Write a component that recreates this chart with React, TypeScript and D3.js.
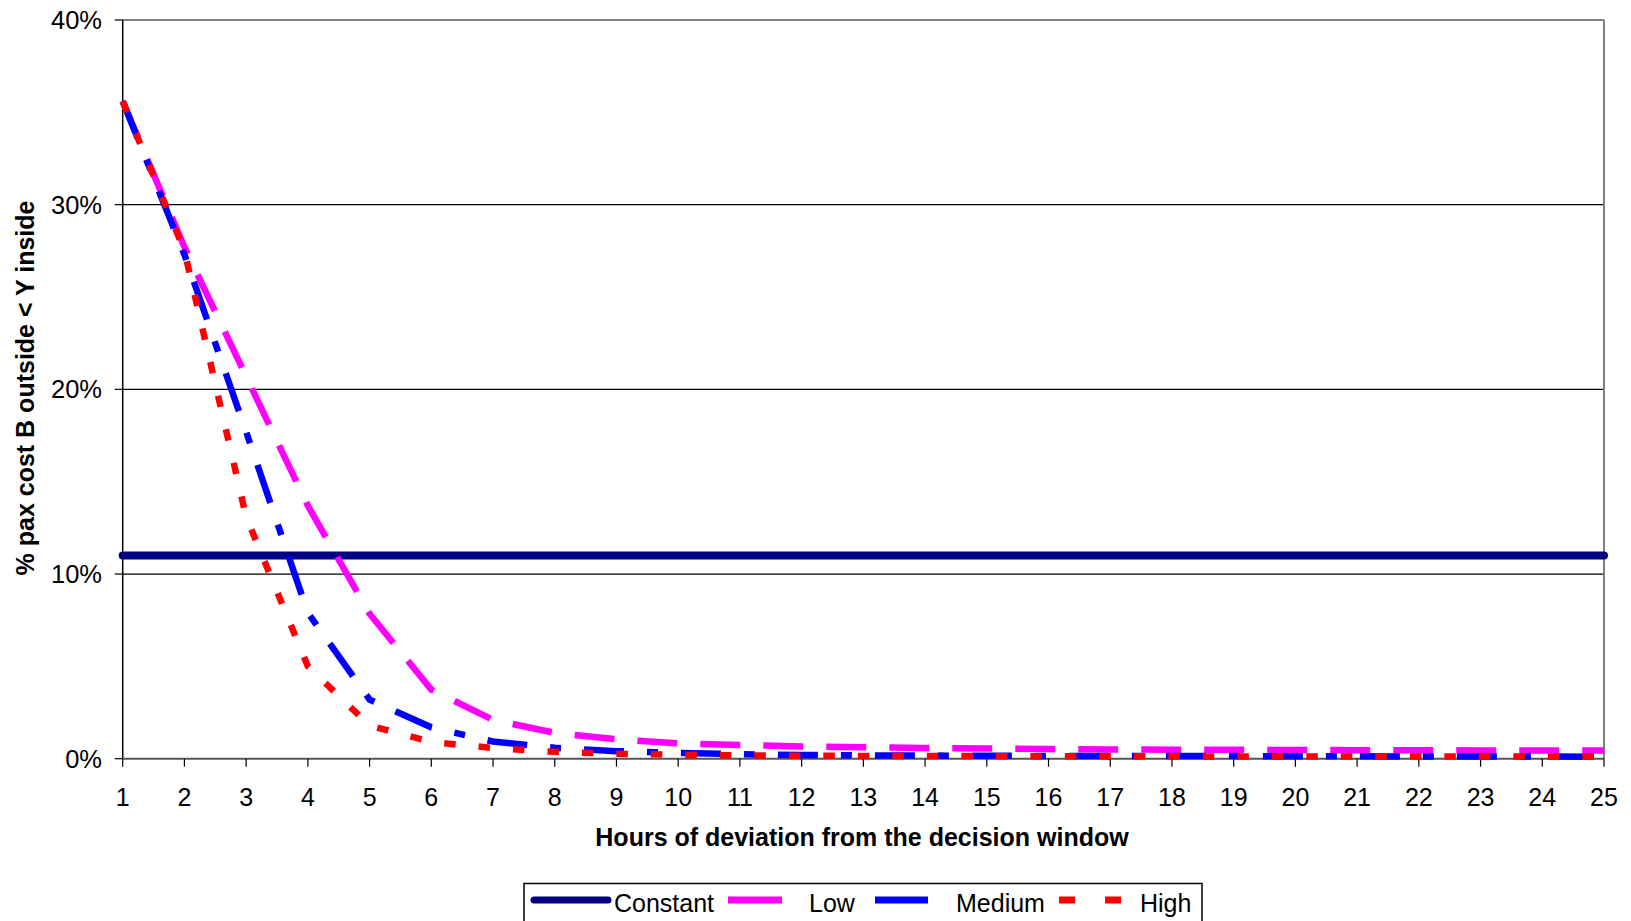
import React from "react";
import * as d3 from "d3";

const hours = [1, 2, 3, 4, 5, 6, 7, 8, 9, 10, 11, 12, 13, 14, 15, 16, 17, 18, 19, 20, 21, 22, 23, 24, 25];
const constantVals = [11, 11, 11, 11, 11, 11, 11, 11, 11, 11, 11, 11, 11, 11, 11, 11, 11, 11, 11, 11, 11, 11, 11, 11, 11];
const lowVals = [35.6, 27.7, 20.7, 13.7, 7.85, 3.74, 2.1, 1.4, 1.05, 0.83, 0.74, 0.66, 0.62, 0.58, 0.55, 0.52, 0.5, 0.49, 0.48, 0.47, 0.46, 0.46, 0.45, 0.45, 0.45];
const mediumVals = [35.6, 27.3, 17.7, 7.9, 3.2, 1.7, 0.93, 0.59, 0.41, 0.31, 0.24, 0.2, 0.18, 0.17, 0.16, 0.15, 0.15, 0.14, 0.14, 0.13, 0.13, 0.12, 0.12, 0.12, 0.11];
const highVals = [35.6, 27.5, 13.1, 5.0, 1.8, 0.9, 0.58, 0.37, 0.27, 0.21, 0.18, 0.16, 0.15, 0.14, 0.14, 0.13, 0.13, 0.13, 0.12, 0.12, 0.12, 0.12, 0.12, 0.11, 0.11];
const yTicks = [0, 10, 20, 30, 40];
const xTitle = "Hours of deviation from the decision window";
const yTitle = "% pax cost B outside < Y inside";
const seriesNames = ["Constant", "Low", "Medium", "High"];

const W = 1631;
const H = 921;
const L = 122.7;
const R = 1604;
const T = 20;
const B = 758.7;

export default function App() {
  const x = d3.scaleLinear().domain([1, 25]).range([L, R]);
  const y = d3.scaleLinear().domain([0, 40]).range([B, T]);
  const line = (vals: number[]) =>
    d3
      .line<number>()
      .x((_, i) => x(hours[i]))
      .y((v) => y(v))(vals) as string;

  const font = "'Liberation Sans', Arial, sans-serif";

  const series = [
    { name: seriesNames[0], vals: constantVals, color: "#000080", width: 8, dash: "", cap: "round" },
    { name: seriesNames[1], vals: lowVals, color: "#FF00FF", width: 6.5, dash: "40 23", cap: "butt" },
    { name: seriesNames[2], vals: mediumVals, color: "#0000FF", width: 6.5, dash: "40 23 11 23", cap: "butt" },
    { name: seriesNames[3], vals: highVals, color: "#FF0000", width: 6.5, dash: "11.5 23", cap: "butt" },
  ];

  return (
    <svg
      width={W}
      height={H}
      style={{ position: "absolute", left: 0, top: 0, background: "#fff" }}
      fontFamily={font}
    >
      <rect x={0} y={0} width={W} height={H} fill="#fff" />
      {yTicks.slice(1, 4).map((t) => (
        <line key={"g" + t} x1={L} x2={R} y1={y(t)} y2={y(t)} stroke="#000" strokeWidth={1.2} />
      ))}
      <line x1={L} x2={R} y1={T} y2={T} stroke="#808080" strokeWidth={2} />
      <line x1={R} x2={R} y1={T} y2={B} stroke="#808080" strokeWidth={2} />
      <line x1={L} x2={L} y1={T} y2={B} stroke="#000" strokeWidth={1.5} />
      {yTicks.map((t) => (
        <g key={"yt" + t}>
          <line x1={L - 8} x2={L} y1={y(t)} y2={y(t)} stroke="#000" strokeWidth={1.2} />
          <text x={102} y={y(t) + 9} fontSize={25.5} textAnchor="end" fill="#000">
            {t + "%"}
          </text>
        </g>
      ))}
      <line x1={L} x2={R} y1={B} y2={B} stroke="#555" strokeWidth={2} />
      {hours.map((h) => (
        <g key={"xt" + h}>
          <line x1={x(h)} x2={x(h)} y1={B} y2={B + 8} stroke="#000" strokeWidth={1.2} />
          <text x={x(h)} y={805.5} fontSize={25} textAnchor="middle" fill="#000">
            {h}
          </text>
        </g>
      ))}
      {series.map((s) => (
        <path
          key={s.name}
          d={line(s.vals)}
          fill="none"
          stroke={s.color}
          strokeWidth={s.width}
          strokeDasharray={s.dash || undefined}
          strokeLinecap={s.cap as any}
          strokeLinejoin="miter"
        />
      ))}
      <text x={862} y={846} fontSize={25} fontWeight="bold" textAnchor="middle" fill="#000">
        {xTitle}
      </text>
      <text
        transform={`translate(34,388) rotate(-90)`}
        fontSize={25}
        fontWeight="bold"
        textAnchor="middle"
        fill="#000"
      >
        {yTitle}
      </text>
      <rect x={524} y={883.5} width={678} height={60} fill="#fff" stroke="#000" strokeWidth={1.5} />
      <line x1={534} x2={608} y1={900} y2={900} stroke="#000080" strokeWidth={7} strokeLinecap="round" />
      <text x={614} y={911.5} fontSize={25} fill="#000">{seriesNames[0]}</text>
      <line x1={728} x2={782} y1={900} y2={900} stroke="#FF00FF" strokeWidth={7} />
      <text x={809} y={911.5} fontSize={25} fill="#000">{seriesNames[1]}</text>
      <line x1={875} x2={928} y1={900} y2={900} stroke="#0000FF" strokeWidth={7} />
      <text x={956} y={911.5} fontSize={25} fill="#000">{seriesNames[2]}</text>
      <line x1={1059} x2={1075} y1={900} y2={900} stroke="#FF0000" strokeWidth={7} />
      <line x1={1105} x2={1121} y1={900} y2={900} stroke="#FF0000" strokeWidth={7} />
      <text x={1140} y={911.5} fontSize={25} fill="#000">{seriesNames[3]}</text>
    </svg>
  );
}
